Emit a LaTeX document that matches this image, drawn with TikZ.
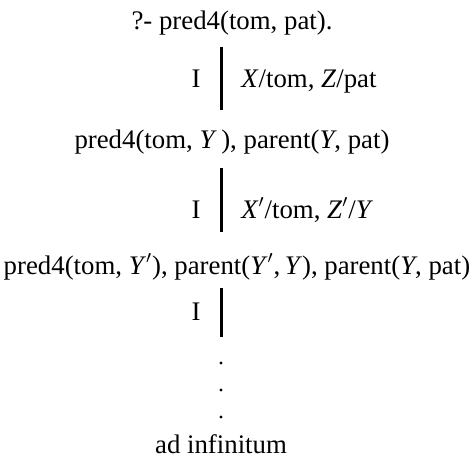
\documentclass[tikz,border=0pt]{standalone}
\usepackage{fontspec}
\setmainfont{Liberation Serif}
\begin{document}
\begin{tikzpicture}[x=0.5pt,y=-0.5pt,
  txt/.style={inner sep=0pt,anchor=base,font=\fontsize{13.4}{16}\selectfont},
  rulelab/.style={txt},
  sublab/.style={txt,anchor=base west},
  edge/.style={line width=1.5pt},
  dot/.style={fill=black,circle,inner sep=0pt,minimum size=1.6pt}]
\useasboundingbox (0,0) rectangle (475,456);
\node[txt] (g0) at (232,29) {?- pred4(tom, pat).};
\node[txt] (g1) at (232,148) {pred4(tom, \textit{Y}\,), parent(\textit{Y}, pat)};
\node[txt] (g2) at (237,274) {pred4(tom, \textit{Y}$'$), parent(\textit{Y}$'$,\,\textit{Y}), parent(\textit{Y}, pat)};
\node[txt] (g3) at (221,453) {ad infinitum};
\node[rulelab] (r1) at (196,87) {I};
\node[rulelab] (r2) at (196,218) {I};
\node[rulelab] (r3) at (196,320) {I};
\node[sublab] (s1) at (241,87) {\textit{X}/tom, \textit{Z}/pat};
\node[sublab] (s2) at (241,218) {\textit{X}$'$/tom, \textit{Z}$'$/\textit{Y}};
\coordinate (a1) at (221,47);
\coordinate (b1) at (221,110);
\coordinate (a2) at (221,168);
\coordinate (b2) at (221,232);
\coordinate (a3) at (221,288);
\coordinate (b3) at (221,337);
\draw[edge] (a1) -- (b1);
\draw[edge] (a2) -- (b2);
\draw[edge] (a3) -- (b3);
\node[dot] (d1) at (221,363) {};
\node[dot] (d2) at (221,390) {};
\node[dot] (d3) at (221,417) {};
\end{tikzpicture}
\end{document}
